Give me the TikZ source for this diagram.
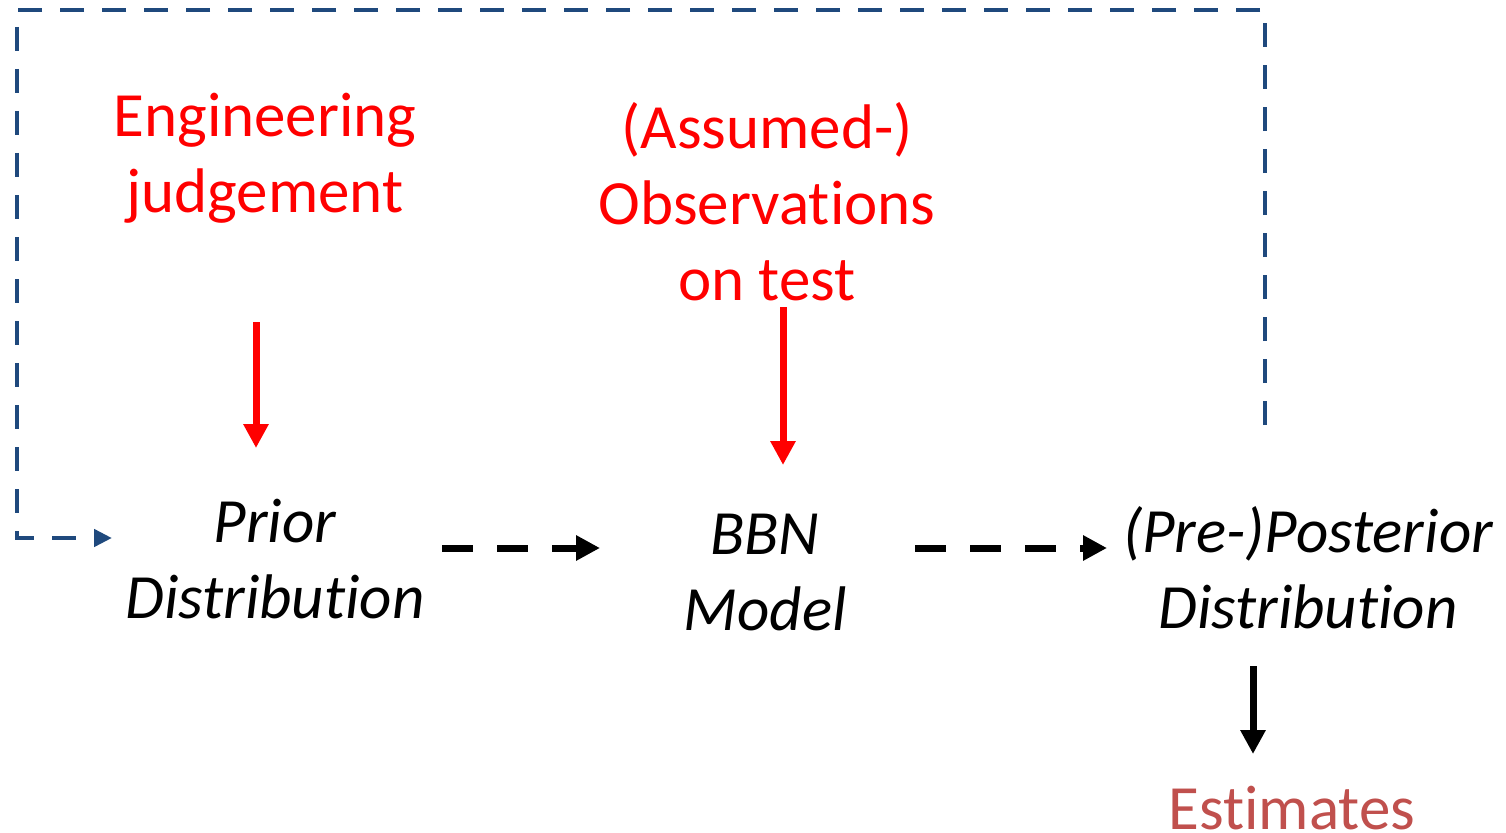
\documentclass[tikz,border=0pt]{standalone}
\usepackage{fontspec}
\setmainfont{Carlito}[Ligatures=NoCommon]
\usetikzlibrary{arrows.meta}
\definecolor{dblue}{HTML}{1F497D}
\definecolor{estred}{HTML}{C0504D}
\tikzset{
  txt/.style={align=center, inner sep=0pt, anchor=base, font=\fontsize{63}{76}\selectfont},
  redtxt/.style={txt, text=red},
  ittxt/.style={txt, font=\fontsize{63}{76}\selectfont\itshape},
  redarrow/.style={draw=red, line width=7pt, -{Triangle[length=24pt,width=24pt]}},
  blackarrow/.style={draw=black, line width=7pt, -{Triangle[length=24pt,width=24pt]}},
  dasharrow/.style={draw=black, line width=7pt, dash pattern=on 31pt off 24pt, -{Triangle[length=24pt,width=24pt]}},
  bluedash/.style={draw=dblue, line width=4.5pt, dash pattern=on 24pt off 18pt, -{Triangle[length=18pt,width=17pt]}}
}
\begin{document}
\begin{tikzpicture}[x=1pt,y=-1pt]
\useasboundingbox (0,0) rectangle (1506,832);
% texts (anchor = baseline of last line)
\node[redtxt] (eng) at (265,212) {Engineering\\judgement};
\node[redtxt] (obs) at (767,300) {(Assumed-)\\Observations\\on test};
\node[ittxt] (prior) at (275,618) {Prior\\Distribution};
\node[ittxt] (bbn) at (765,630) {BBN\\Model};
\node[ittxt] (post) at (1308,628) {(Pre-)Posterior\\Distribution};
\node[txt, text=estred] (est) at (1292,829) {Estimates};
% coordinates
\coordinate (r1s) at (256,322); \coordinate (r1e) at (256,448);
\coordinate (r2s) at (783,307); \coordinate (r2e) at (783,465);
\coordinate (d1s) at (442,548); \coordinate (d1e) at (600,548);
\coordinate (d2s) at (915,548); \coordinate (d2e) at (1107,548);
\coordinate (bs) at (1253,666); \coordinate (be) at (1253,754);
\coordinate (fb1) at (1265,425); \coordinate (fb2) at (1265,10);
\coordinate (fb3) at (17,10); \coordinate (fb4) at (17,538);
\coordinate (fb5) at (112,538);
% arrows
\draw[redarrow] (r1s) -- (r1e);
\draw[redarrow] (r2s) -- (r2e);
\draw[dasharrow] (d1s) -- (d1e);
\draw[dasharrow] (d2s) -- (d2e);
\draw[blackarrow] (bs) -- (be);
\draw[bluedash] (fb1) -- (fb2) -- (fb3) -- (fb4) -- (fb5);
\end{tikzpicture}
\end{document}
